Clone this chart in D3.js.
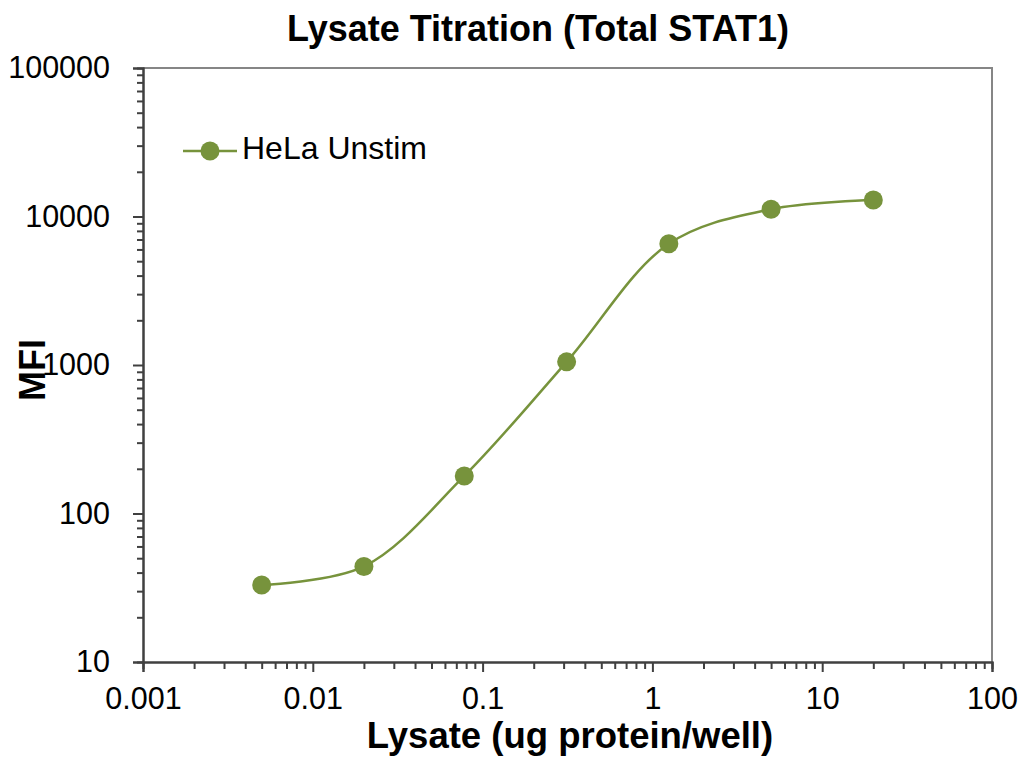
<!DOCTYPE html>
<html>
  <head>
    <meta charset="utf-8">
    <title>Lysate Titration (Total STAT1)</title>
    <script src="https://d3js.org/d3.v7.min.js"></script>
    <style>
      body { margin: 0; background: #fff; }
      text { font-family: "Liberation Sans", Arial, sans-serif; fill: #000; }
    </style>
  </head>
  <body>

  <div id="chart"></div>

  <script>

  // data
  var lysate = [0.005, 0.02, 0.078, 0.3125, 1.25, 5, 20];
  var mfi = [33, 44, 179, 1050, 6550, 11200, 12900];
  var seriesName = "HeLa Unstim";
  var xTicks = [0.001, 0.01, 0.1, 1, 10, 100];
  var xTickLabels = ["0.001", "0.01", "0.1", "1", "10", "100"];
  var yTicks = [10, 100, 1000, 10000, 100000];
  var yTickLabels = ["10", "100", "1000", "10000", "100000"];

  var width = 1019, height = 761;
  var plot = { left: 143, right: 992, top: 68, bottom: 662 };
  var green = "#77933C", axisColor = "#404040", frameColor = "#868686";

  var svg = d3.select("#chart").append("svg")
      .attr("width", width)
      .attr("height", height);

  var x = d3.scaleLog().domain([0.001, 100]).range([plot.left, plot.right]);
  var y = d3.scaleLog().domain([10, 100000]).range([plot.bottom, plot.top]);

  function minors(ticks){
    var out = [];
    for (var i = 0; i < ticks.length - 1; i++)
      for (var k = 2; k <= 9; k++) out.push(ticks[i] * k);
    return out;
  }

  // top / right frame
  svg.append("path")
      .attr("d", "M" + plot.left + "," + plot.top + "H" + plot.right + "V" + plot.bottom)
      .attr("fill", "none")
      .attr("stroke", frameColor)
      .attr("stroke-width", 2);

  // y axis (minor ticks in their own group)
  svg.append("g")
      .attr("transform", "translate(" + plot.left + ",0)")
      .call(d3.axisLeft(y).tickValues(minors(yTicks)).tickSize(6).tickFormat(""));
  svg.append("g")
      .attr("transform", "translate(" + plot.left + ",0)")
      .call(d3.axisLeft(y).tickValues(yTicks).tickSize(10).tickPadding(23)
        .tickFormat(function(d_, i_){ return yTickLabels[i_]; }));

  // x axis
  svg.append("g")
      .attr("transform", "translate(0," + plot.bottom + ")")
      .call(d3.axisBottom(x).tickValues(minors(xTicks)).tickSize(7).tickFormat(""));
  svg.append("g")
      .attr("transform", "translate(0," + plot.bottom + ")")
      .call(d3.axisBottom(x).tickValues(xTicks).tickSize(10).tickPadding(15)
        .tickFormat(function(d_, i_){ return xTickLabels[i_]; }));

  svg.selectAll(".domain").attr("stroke", axisColor).attr("stroke-width", 2);
  svg.selectAll(".tick line").attr("stroke", axisColor).attr("stroke-width", 2);
  svg.selectAll(".tick text")
      .style("font-family", "'Liberation Sans', Arial, sans-serif")
      .style("font-size", "30.5px")
      .attr("fill", "#000");

  // titles
  svg.append("text")
      .attr("x", 538)
      .attr("y", 41)
      .attr("text-anchor", "middle")
      .style("font-size", "36px")
      .style("font-weight", "bold")
      .text("Lysate Titration (Total STAT1)");

  svg.append("text")
      .attr("x", 570)
      .attr("y", 748)
      .attr("text-anchor", "middle")
      .style("font-size", "36.5px")
      .style("font-weight", "bold")
      .text("Lysate (ug protein/well)");

  svg.append("text")
      .attr("transform", "translate(45,370) rotate(-90)")
      .attr("text-anchor", "middle")
      .style("font-size", "36px")
      .style("font-weight", "bold")
      .text("MFI");

  // series
  var pts = lysate.map(function(d_, i_){ return [d_, mfi[i_]]; });

  var line = d3.line()
      .x(function(d_){ return x(d_[0]); })
      .y(function(d_){ return y(d_[1]); })
      .curve(d3.curveCatmullRom.alpha(0.5));

  svg.append("path")
      .datum(pts)
      .attr("d", line)
      .attr("fill", "none")
      .attr("stroke", green)
      .attr("stroke-width", 2.5);

  svg.selectAll(".dot")
      .data(pts)
      .enter()
      .append("circle")
      .attr("class", "dot")
      .attr("cx", function(d_){ return x(d_[0]); })
      .attr("cy", function(d_){ return y(d_[1]); })
      .attr("r", 9.5)
      .attr("fill", green);

  // legend
  var lg = svg.append("g").attr("transform", "translate(183,151)");
  lg.append("line")
      .attr("x1", 0).attr("x2", 54)
      .attr("stroke", green)
      .attr("stroke-width", 2.5);
  lg.append("circle")
      .attr("cx", 27)
      .attr("r", 9.5)
      .attr("fill", green);
  lg.append("text")
      .attr("x", 59)
      .attr("y", 8)
      .style("font-size", "32px")
      .text(seriesName);

  </script>

  </body>
</html>
